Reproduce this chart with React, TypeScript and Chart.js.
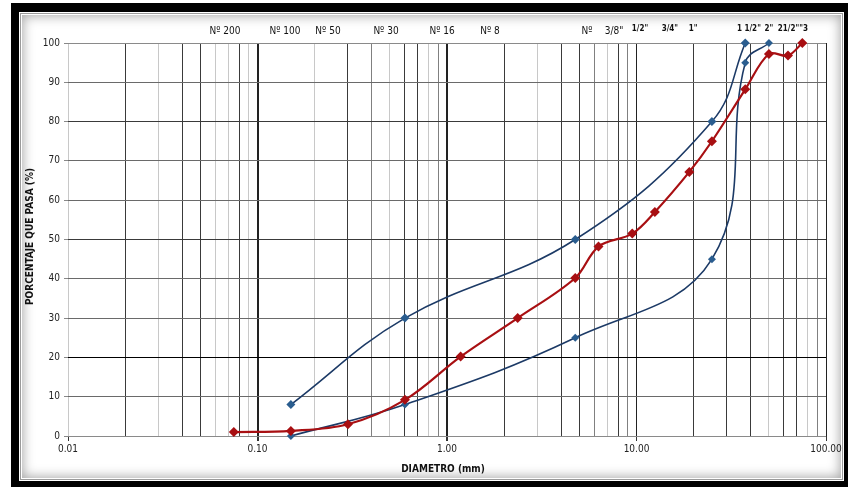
import React, { useEffect, useRef } from 'react';
import { Chart, registerables } from 'chart.js';

Chart.register(...registerables);

// ---- Data ----
const muestraSize = [0.075, 0.15, 0.3, 0.6, 1.18, 2.36, 4.75, 6.3, 9.5, 12.5, 19, 25, 37.5, 50, 63, 75];
const muestraPasa = [1, 1.3, 3, 9.2, 20.2, 30, 40.2, 48.2, 51.5, 57, 67.2, 75, 88.2, 97.2, 96.8, 100];

const limSupSize = [0.15, 0.6, 4.75, 25, 37.5];
const limSupPasa = [8, 30, 50, 80, 100];

const limInfSize = [0.15, 0.6, 4.75, 25, 37.5, 50];
const limInfPasa = [0, 8, 25, 45, 95, 100];

const sieveLabels = ['Nº 200', 'Nº 100', 'Nº 50', 'Nº 30', 'Nº 16', 'Nº 8', 'Nº', '3/8"', '1/2"', '3/4"', '1"', '1 1/2"', '2"', '21/2""3'];
const sieveLabelAt = [0.0674, 0.1396, 0.2355, 0.4766, 0.942, 1.687, 5.48, 7.61, 10.43, 15.0, 19.9, 39.2, 50.0, 66.9];
const sieveBold = [false, false, false, false, false, false, false, false, true, true, true, true, true, true];

const xMajorTicks = [0.01, 0.1, 1, 10, 100];

// ---- Styles ----
const FONT = "'Liberation Sans Narrow', 'Arial Narrow', 'DejaVu Sans Condensed', 'Liberation Sans', sans-serif";
const RED = '#a80f12';
const NAVY = '#1c3a66';
const BLUE_MK = '#2a5d8f';
const SHADE: Record<string, string> = { D: '#3a3a3a', M: '#808080', L: '#c8c8c8' };
const decadeShades = ['DLDDLLDL', 'LDMLDDLM', 'DLDDMLDM', 'DDDLDDLM'];

function gridShade(v: number): string {
  const e = Math.floor(Math.log10(v) + 1e-9);
  const m = Math.round(v / Math.pow(10, e));
  if (m === 1) return v <= 0.0100001 ? SHADE.L : '#222';
  const d = e + 2;
  const s = decadeShades[d] ? decadeShades[d][m - 2] : 'M';
  return SHADE[s] || SHADE.M;
}

function isMajor(v: number) {
  return xMajorTicks.some((t) => Math.abs(t - v) / t < 1e-6);
}

const textPlugin = {
  id: 'gradTexts',
  afterDraw(chart: any) {
    const { ctx, chartArea, scales } = chart;
    const x = scales.x;
    ctx.save();
    ctx.fillStyle = '#111';
    ctx.textAlign = 'center';
    ctx.textBaseline = 'middle';
    sieveLabels.forEach((t, i) => {
      ctx.font = sieveBold[i] ? `bold 8px ${FONT}` : `10px ${FONT}`;
      ctx.fillText(t, x.getPixelForValue(sieveLabelAt[i]), chartArea.top - (sieveBold[i] ? 14 : 12));
    });
    ctx.font = `bold 10px ${FONT}`;
    ctx.fillText('DIAMETRO (mm)', (chartArea.left + chartArea.right) / 2 - 4, chartArea.bottom + 33);
    ctx.translate(30, (chartArea.top + chartArea.bottom) / 2 - 3);
    ctx.rotate(-Math.PI / 2);
    ctx.fillText('PORCENTAJE QUE PASA (%)', 0, 0);
    ctx.restore();
  },
};

function toPoints(xs: number[], ys: number[]) {
  return xs.map((v, i) => ({ x: v, y: ys[i] }));
}

export default function App() {
  const ref = useRef<HTMLCanvasElement | null>(null);

  useEffect(() => {
    document.body.style.margin = '0';
    if (!ref.current) return;
    const chart = new Chart(ref.current, {
      type: 'line',
      data: {
        datasets: [
          {
            label: 'Muestra',
            data: toPoints(muestraSize, muestraPasa),
            borderColor: RED,
            backgroundColor: RED,
            borderWidth: 2.2,
            pointStyle: 'rectRot',
            pointRadius: 5,
            pointBorderWidth: 0,
            tension: 0.35,
            fill: false,
            clip: false as any,
          },
          {
            label: 'Límite superior',
            data: toPoints(limSupSize, limSupPasa),
            borderColor: NAVY,
            backgroundColor: BLUE_MK,
            borderWidth: 1.6,
            pointStyle: 'rectRot',
            pointRadius: 4.5,
            pointBorderWidth: 0,
            tension: 0.4,
            fill: false,
            clip: false as any,
          },
          {
            label: 'Límite inferior',
            data: toPoints(limInfSize, limInfPasa),
            borderColor: NAVY,
            backgroundColor: BLUE_MK,
            borderWidth: 1.6,
            pointStyle: 'rectRot',
            pointRadius: 4,
            pointBorderWidth: 0,
            tension: 0.4,
            fill: false,
            clip: false as any,
          },
        ],
      },
      options: {
        animation: false,
        responsive: false,
        parsing: false as any,
        layout: { padding: { top: 43, right: 22, bottom: 0, left: 0 } },
        plugins: { legend: { display: false }, tooltip: { enabled: false } },
        scales: {
          x: {
            type: 'logarithmic',
            position: 'bottom',
            min: 0.01,
            max: 100,
            afterFit: (s: any) => {
              s.height = 51;
            },
            afterBuildTicks: (s: any) => {
              const ticks: any[] = [];
              for (let e = -2; e <= 1; e++) {
                for (let m = 1; m <= 9; m++) ticks.push({ value: +(m * Math.pow(10, e)).toPrecision(6) });
              }
              ticks.push({ value: 100 });
              s.ticks = ticks;
            },
            ticks: {
              autoSkip: false,
              maxRotation: 0,
              minRotation: 0,
              padding: 2,
              color: '#222',
              font: { family: FONT, size: 10 },
              callback: (v: any) => (isMajor(Number(v)) ? Number(v).toFixed(2) : ''),
            },
            grid: {
              color: (c: any) => gridShade(c.tick ? c.tick.value : 1),
              lineWidth: (c: any) => {
                const v = c.tick ? c.tick.value : 1;
                return Math.abs(v - 0.1) < 1e-6 || Math.abs(v - 1) < 1e-6 ? 2 : 1;
              },
              tickColor: (c: any) => (c.tick && isMajor(c.tick.value) ? '#333' : 'rgba(0,0,0,0)'),
              tickLength: 5,
            },
            border: { display: false },
          },
          y: {
            min: 0,
            max: 100,
            afterFit: (s: any) => {
              s.width = 68;
            },
            ticks: {
              stepSize: 10,
              padding: 4,
              color: '#222',
              font: { family: FONT, size: 10 },
            },
            grid: {
              color: (c: any) => {
                const v = c.tick ? c.tick.value : 0;
                if (v === 20) return '#000';
                if (v === 50 || v === 80) return '#3a3a3a';
                if (v === 0 || v === 100) return '#8a8a8a';
                return '#6a6a6a';
              },
              tickColor: '#888',
              tickLength: 4,
            },
            border: { display: false },
          },
        },
      },
      plugins: [textPlugin],
    });
    return () => chart.destroy();
  }, []);

  return (
    <div style={{ position: 'fixed', left: 0, top: 0, width: 848, height: 487, background: '#fff', overflow: 'hidden' }}>
      <div style={{ position: 'absolute', left: 11, top: 3, width: 837, height: 484, background: '#000' }} />
      <div
        style={{
          position: 'absolute',
          left: 19,
          top: 12,
          width: 825,
          height: 469,
          background: '#fff',
          boxSizing: 'border-box',
          border: '1px solid #fff',
          boxShadow: 'inset 0 0 0 1px #9a9a9a, inset 0 0 0 2px #fff, inset 0 0 12px 3px rgba(0,0,0,0.35)',
        }}
      />
      <canvas ref={ref} width={848} height={487} style={{ position: 'absolute', left: 0, top: 0, width: 848, height: 487 }} />
    </div>
  );
}
